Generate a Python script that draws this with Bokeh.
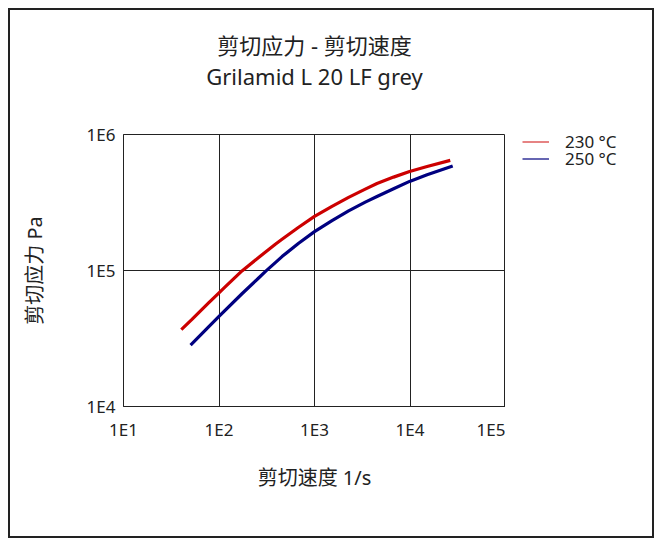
from bokeh.plotting import figure
from bokeh.layouts import row
from bokeh.models import FixedTicker, Title, Legend, LegendItem
from bokeh.embed import file_html
from bokeh.resources import INLINE

# data
rate_230 = [40.3, 52.1, 77.8, 100, 116, 174, 260, 389, 457, 682, 1000, 1525, 2275,
            3400, 4510, 6730, 9900, 15100, 26400]
stress_230 = [36800, 43650, 57800, 68400, 75700, 99300, 124700, 156000, 169800, 208000,
              250000, 296500, 345000, 397000, 436500, 486000, 534600, 582100, 645700]
rate_250 = [50.4, 77.8, 100, 174, 260, 311, 389, 457, 682, 1000, 1525, 2275,
            3400, 4510, 6730, 9900, 15100, 28000]
stress_250 = [28250, 38460, 46030, 67450, 88100, 99300, 114300, 126500, 158500, 193200,
              232800, 274800, 318400, 349900, 399000, 451900, 505800, 586100]

x_ticks = [10, 100, 1000, 10000, 100000]
x_tick_labels = ["1E1", "1E2", "1E3", "1E4", "1E5"]
y_ticks = [10000, 100000, 1000000]
y_tick_labels = ["1E4", "1E5", "1E6"]
series_names = ["230 °C", "250 °C"]
title_text = "剪切应力 - 剪切速度"
subtitle_text = "Grilamid L 20 LF grey"
x_label = "剪切速度 1/s"
y_label = "剪切应力 Pa"

FONT = "'Noto Sans', 'Noto Sans CJK SC', sans-serif"
INK = "#222222"
RED = "#cc0000"
BLUE = "#000080"

p = figure(width=495, height=526, x_axis_type="log", y_axis_type="log",
           x_range=(10, 100000), y_range=(10000, 1000000),
           output_backend="svg", toolbar_location=None,
           min_border_left=113, min_border_right=0,
           min_border_top=124, min_border_bottom=130)
p.title = None
p.outline_line_color = INK
p.outline_line_width = 1

# spacer between frame and the two title lines
p.add_layout(Title(text=" ", text_font=FONT, text_font_size="22px", standoff=12), "above")
p.add_layout(Title(text=subtitle_text, align="center", text_font=FONT,
                   text_font_size="22px", text_font_style="normal",
                   text_color=INK, standoff=0), "above")
p.add_layout(Title(text=title_text, align="center", text_font=FONT,
                   text_font_size="22px", text_font_style="normal",
                   text_color=INK, standoff=-3), "above")

for ax, ticks, labels in ((p.xaxis[0], x_ticks, x_tick_labels), (p.yaxis[0], y_ticks, y_tick_labels)):
    ax.ticker = FixedTicker(ticks=ticks, minor_ticks=[])
    ax.major_label_overrides = {t: l for t, l in zip(ticks, labels)}
    ax.major_tick_out = 0
    ax.major_tick_in = 0
    ax.minor_tick_out = 0
    ax.minor_tick_in = 0
    ax.axis_line_color = INK
    ax.major_label_text_font = FONT
    ax.major_label_text_font_size = "17px"
    ax.major_label_text_color = INK
    ax.axis_label_text_font = FONT
    ax.axis_label_text_font_size = "20px"
    ax.axis_label_text_font_style = "normal"
    ax.axis_label_text_color = INK

p.xaxis.axis_label = x_label
p.yaxis.axis_label = y_label
p.xaxis.major_label_standoff = 11
p.xaxis.axis_label_standoff = 20
p.yaxis.major_label_standoff = 8
p.yaxis.major_label_orientation = "horizontal"
p.yaxis.axis_label_standoff = 36

p.xgrid.ticker = FixedTicker(ticks=x_ticks, minor_ticks=[])
p.ygrid.ticker = FixedTicker(ticks=y_ticks, minor_ticks=[])
p.xgrid.grid_line_color = INK
p.ygrid.grid_line_color = INK
p.xgrid.grid_line_alpha = 1
p.ygrid.grid_line_alpha = 1

p.line(rate_230, stress_230, line_color=RED, line_width=3.2, line_join="round")
p.line(rate_250, stress_250, line_color=BLUE, line_width=3.2, line_join="round")

# side panel holding the legend (its frame is aligned with the main frame by the row).
# The series are drawn here too, but fall outside this panel's ranges (only the legend shows).
p2 = figure(width=147, height=526, x_range=(0, 1), y_range=(0, 1),
            output_backend="svg", toolbar_location=None,
            x_axis_location=None, y_axis_location=None,
            min_border_left=0, min_border_right=0, min_border_top=0, min_border_bottom=0)
p2.title = None
p2.outline_line_color = None
p2.xgrid.visible = False
p2.ygrid.visible = False

leg_r1 = p2.line(rate_230, stress_230, line_color=RED, line_width=1.5, line_alpha=0.65)
leg_r2 = p2.line(rate_250, stress_250, line_color=BLUE, line_width=1.5, line_alpha=0.8)
for rend, name, loc in ((leg_r1, series_names[0], (17, 253)), (leg_r2, series_names[1], (17, 236))):
    lg = Legend(items=[LegendItem(label=name, renderers=[rend])],
                location=loc, padding=0, margin=0, spacing=0,
                glyph_width=27, glyph_height=23, label_height=18,
                label_standoff=16, border_line_alpha=0, background_fill_alpha=0,
                label_text_font=FONT, label_text_font_size="17px",
                label_text_color=INK)
    p2.add_layout(lg, "center")

layout = row(p, p2, styles={"border": "2px solid #222", "margin-left": "8px", "margin-top": "8px"})

open("out.html", "w").write(file_html(layout, INLINE))
